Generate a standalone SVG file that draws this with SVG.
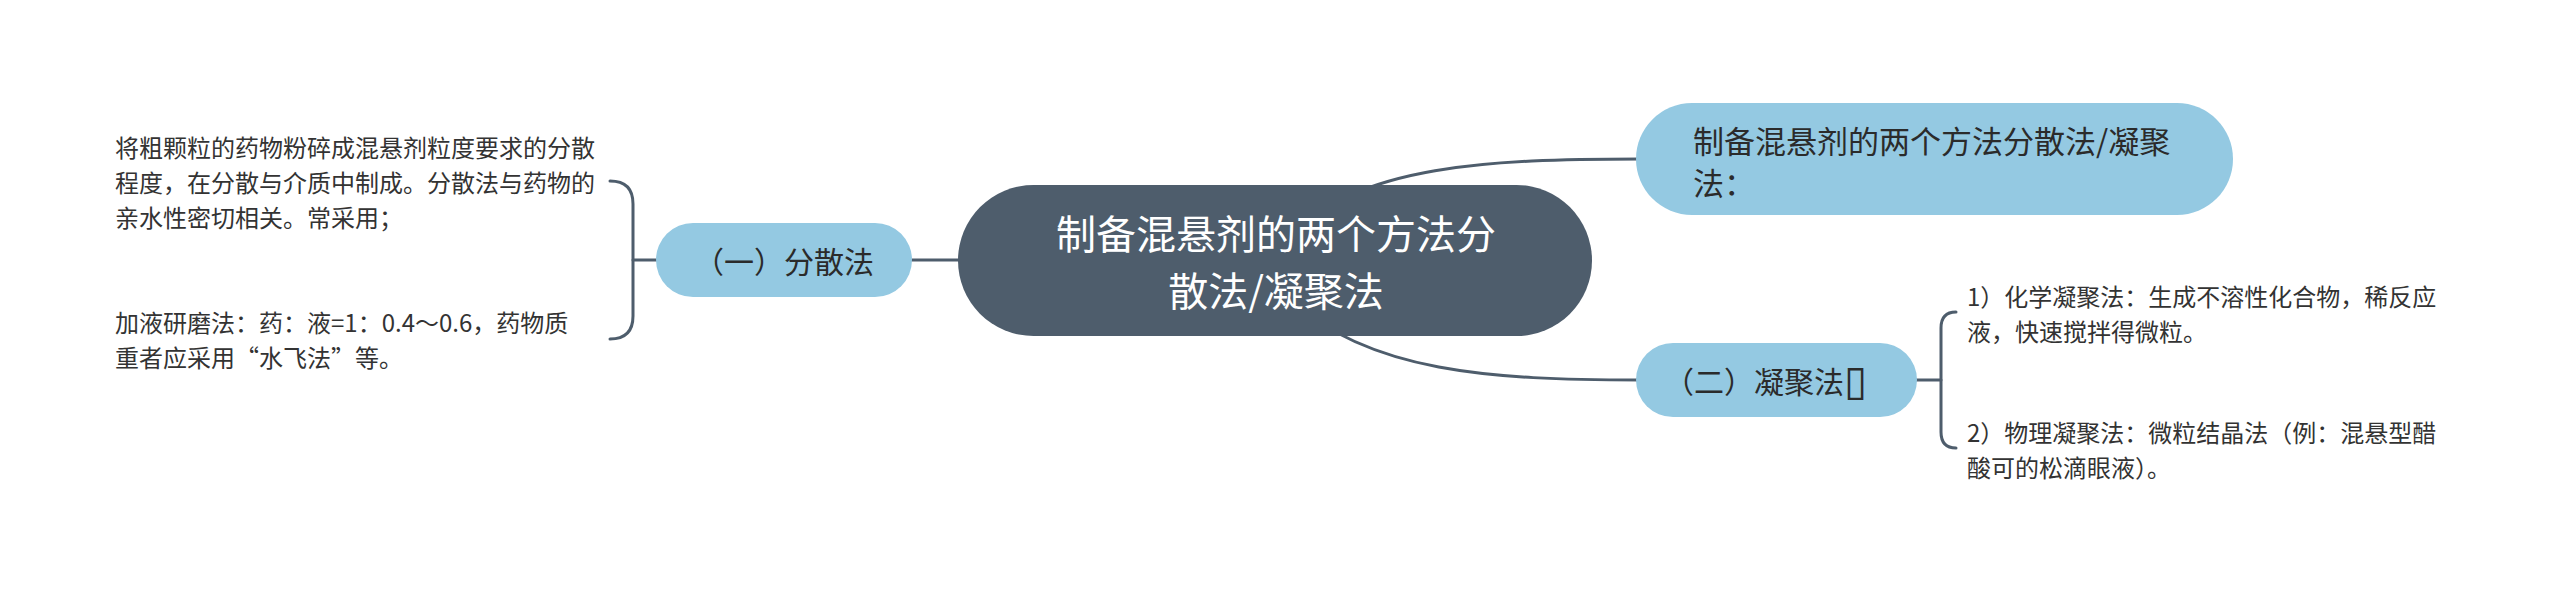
<svg xmlns="http://www.w3.org/2000/svg" width="2560" height="593" viewBox="0 0 2560 593">
<style>
text{font-family:"Noto Sans CJK SC","Noto Sans",sans-serif;dominant-baseline:central}
.conn{fill:none;stroke:#4e5d6c;stroke-width:3;stroke-linecap:round}
.root{fill:#4e5d6c}
.sub{fill:#94c9e2}
.rt{fill:#ffffff;font-size:40px;text-anchor:middle}
.st{fill:#2b2b2b;font-size:30px}
.lt{fill:#333333;font-size:24px}
.box{font-family:"DejaVu Sans",sans-serif;font-size:42px}
</style>
<rect width="2560" height="593" fill="#ffffff"/>
<g id="connectors">
<path class="conn" d="M1290,235 C1360,165 1490,159 1640,159"/>
<path class="conn" d="M1290,300 C1370,372 1490,380 1640,380"/>
<path class="conn" d="M912,260 H962"/>
<path class="conn" d="M610,181 Q633,181 633,204 V316 Q633,339 610,339"/>
<path class="conn" d="M633,260 H656"/>
<path class="conn" d="M1916,380 H1941"/>
<path class="conn" d="M1956,312 Q1941,312 1941,328 V432 Q1941,448 1956,448"/>
</g>
<g id="root">
<rect class="root" x="958" y="185" width="634" height="151" rx="75.5"/>
<text class="rt" x="1276" y="232">制备混悬剂的两个方法分</text>
<text class="rt" x="1276" y="289">散法/凝聚法</text>
</g>
<g id="n-top">
<rect class="sub" x="1636" y="103" width="597" height="112" rx="56"/>
<text class="st" x="1693" y="139" style="font-size:31px">制备混悬剂的两个方法分散法/凝聚</text>
<text class="st" x="1693" y="181" style="font-size:31px">法：</text>
</g>
<g id="n-fensan">
<rect class="sub" x="656" y="223" width="256" height="74" rx="37"/>
<text class="st" x="784" y="260" text-anchor="middle">（一）分散法</text>
</g>
<g id="n-ningju">
<rect class="sub" x="1636" y="343" width="281" height="74" rx="37"/>
<text class="st" x="1664" y="380">（二）凝聚法<tspan class="box">▯</tspan></text>
</g>
<g id="t-fensan-1">
<text class="lt" x="115" y="146">将粗颗粒的药物粉碎成混悬剂粒度要求的分散</text>
<text class="lt" x="115" y="181">程度，在分散与介质中制成。分散法与药物的</text>
<text class="lt" x="115" y="216">亲水性密切相关。常采用；</text>
</g>
<g id="t-fensan-2">
<text class="lt" x="115" y="321">加液研磨法：药：液=1：0.4～0.6，药物质</text>
<text class="lt" x="115" y="356">重者应采用“水飞法”等。</text>
</g>
<g id="t-ningju-1">
<text class="lt" x="1967" y="295">1）化学凝聚法：生成不溶性化合物，稀反应</text>
<text class="lt" x="1967" y="330">液，快速搅拌得微粒。</text>
</g>
<g id="t-ningju-2">
<text class="lt" x="1967" y="431">2）物理凝聚法：微粒结晶法（例：混悬型醋</text>
<text class="lt" x="1967" y="466">酸可的松滴眼液）。</text>
</g>
</svg>
